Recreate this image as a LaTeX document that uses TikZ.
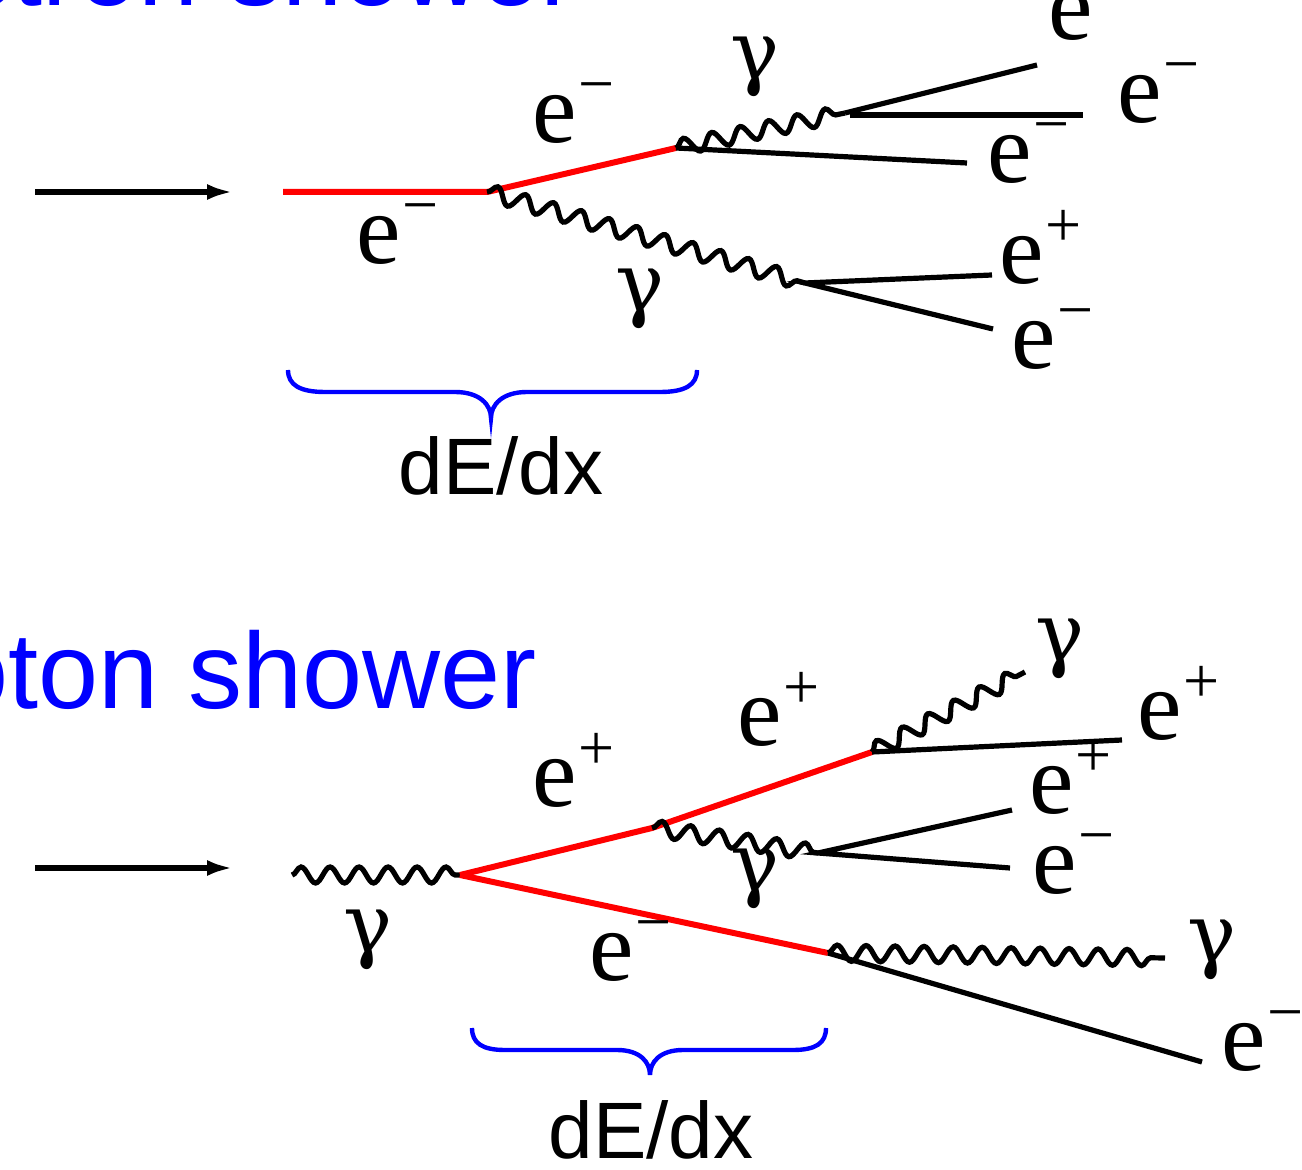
\documentclass[tikz,border=0pt]{standalone}
\usepackage{fontspec}
\setmainfont{Liberation Serif}
\newfontfamily\serf{Liberation Serif}
\newfontfamily\gserf{DejaVu Serif}
\newfontfamily\sansf{Liberation Sans}
\usetikzlibrary{arrows.meta,decorations.pathmorphing}
\newcommand\lep[1]{e\kern1pt\raisebox{18.5pt}{\fontsize{32}{32}\selectfont #1}}
\tikzset{
 lbl/.style={inner sep=0pt, anchor=base west, font=\serf\fontsize{50}{50}\selectfont},
 glbl/.style={inner sep=0pt, anchor=base, font=\gserf\fontsize{41}{41}\selectfont},
 fermion/.style={line width=2.6pt, black},
 efermion/.style={line width=3pt, red},
 photon/.style={line width=2.6pt, black, decorate, decoration={snake, amplitude=4pt, segment length=14.5pt}},
 bracestyle/.style={line width=2.2pt, blue},
 title/.style={inner sep=0pt, anchor=base east, text=blue, font=\sansf\fontsize{54}{54}\selectfont},
 dedx/.style={inner sep=0pt, anchor=base, font=\sansf\fontsize{40}{40}\selectfont},
 beam/.style={line width=3pt, -{Latex[length=13pt,width=8pt]}},
}
\begin{document}
\begin{tikzpicture}[x=0.5pt,y=-0.5pt]
\useasboundingbox (0,0) rectangle (1302,1170);
\clip (0,0) rectangle (1302,1170);

% titles
\node[title] (title1) at (577,6) {Electron shower};
\node[title] (title2) at (537,709) {Photon shower};

% ---------- electron shower ----------
\coordinate (a1) at (35,192);
\coordinate (a2) at (233,192);
\coordinate (t0) at (283,192);
\coordinate (t1) at (487,192);
\coordinate (t2) at (676,148);
\coordinate (t3) at (845,113);
\coordinate (t4) at (805,283);
\coordinate (t2e) at (967,163);
\coordinate (t3a) at (1037,65);
\coordinate (t3b) at (1083,115);
\coordinate (t3c) at (850,115);
\coordinate (t4a) at (992,275);
\coordinate (t4b) at (993,329);

\draw[beam] (a1) -- (a2);
\draw[efermion] (t0) -- (t1) -- (t2);
\draw[fermion] (t2) -- (t2e);
\draw[photon] (t2) -- (t3);
\draw[fermion] (t3) -- (t3a);
\draw[fermion] (t3c) -- (t3b);
\draw[photon] (t1) -- (t4);
\draw[fermion] (t4a) -- (t4) -- (t4b);

\node[lbl] (lA) at (1048,40) {\lep{−}};
\node[lbl] (lB) at (1117,123) {\lep{−}};
\node[lbl] (lC) at (987,183) {\lep{−}};
\node[lbl] (lD) at (532,143) {\lep{−}};
\node[lbl] (lE) at (356,264) {\lep{−}};
\node[lbl] (lF) at (999,284) {\lep{+}};
\node[lbl] (lG) at (1011,369) {\lep{−}};
\node[glbl] (gA) at (755,80) {γ};
\node[glbl] (gB) at (640,312) {γ};

\draw[bracestyle] (288,370) .. controls (288,385) and (300,392) .. (325,392) -- (455,392)
  .. controls (480,392) and (491,405) .. (491,418)
  .. controls (491,405) and (502,392) .. (527,392) -- (660,392)
  .. controls (685,392) and (697,385) .. (697,370);
\node[dedx] (d1) at (501,495) {dE/dx};

% ---------- photon shower ----------
\coordinate (b1) at (35,868);
\coordinate (b2) at (233,868);
\coordinate (g0) at (292,875);
\coordinate (v0) at (460,875);
\coordinate (v1) at (652,828);
\coordinate (v2) at (872,752);
\coordinate (v3) at (828,953);
\coordinate (v4) at (818,853);
\coordinate (v2a) at (1122,740);
\coordinate (v2g) at (1025,672);
\coordinate (v4a) at (1012,810);
\coordinate (v4b) at (1010,868);
\coordinate (v3g) at (1165,958);
\coordinate (v3a) at (1202,1062);

\draw[beam] (b1) -- (b2);
\draw[photon] (g0) -- (v0);
\draw[efermion] (v0) -- (v1) -- (v2);
\draw[efermion] (v0) -- (v3);
\draw[fermion] (v2) -- (v2a);
\draw[photon] (v2) -- (v2g);
\draw[photon] (v1) -- (v4);
\draw[fermion] (v4a) -- (v4) -- (v4b);
\draw[photon] (v3) -- (v3g);
\draw[fermion] (v3) -- (v3a);

\node[lbl] (lH) at (532,806) {\lep{+}};
\node[lbl] (lI) at (737,746) {\lep{+}};
\node[lbl] (lJ) at (1137,740) {\lep{+}};
\node[lbl] (lK) at (1029,813) {\lep{+}};
\node[lbl] (lL) at (1032,893) {\lep{−}};
\node[lbl] (lM) at (589,980) {\lep{−}};
\node[lbl] (lN) at (1221,1070) {\lep{−}};
\node[glbl] (gC) at (1060,662) {γ};
\node[glbl] (gD) at (755,892) {γ};
\node[glbl] (gE) at (368,952) {γ};
\node[glbl] (gF) at (1212,962) {γ};

\draw[bracestyle] (472,1028) .. controls (472,1043) and (482,1050) .. (505,1050) -- (617,1050)
  .. controls (640,1050) and (650,1062) .. (650,1075)
  .. controls (650,1062) and (660,1050) .. (683,1050) -- (793,1050)
  .. controls (816,1050) and (826,1043) .. (826,1028);
\node[dedx] (d2) at (651,1158) {dE/dx};
\end{tikzpicture}
\end{document}
